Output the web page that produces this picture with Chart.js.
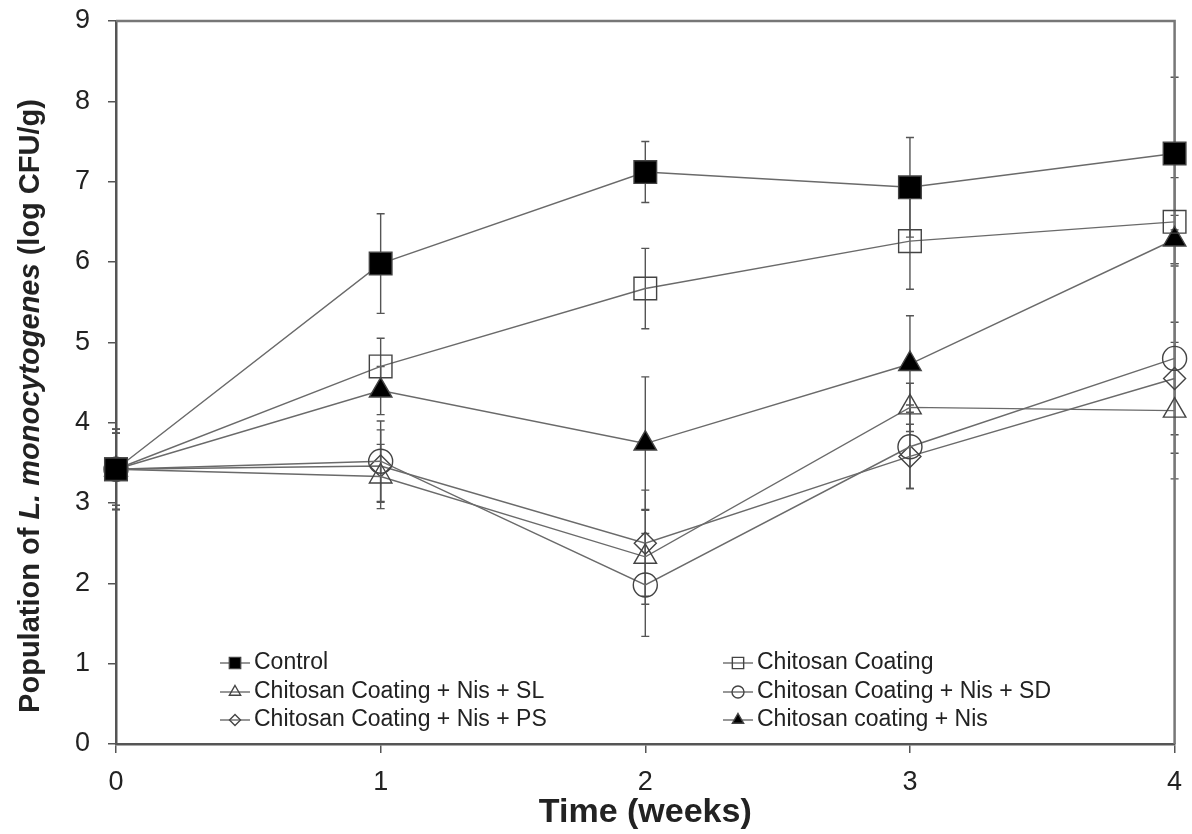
<!DOCTYPE html>
<html>
<head>
<meta charset="utf-8">
<script src="https://cdn.jsdelivr.net/npm/chart.js@4.4.0/dist/chart.umd.min.js"></script>
<style>
  html, body { margin: 0; padding: 0; background: #fff; }
</style>
</head>
<body>
<canvas id="chart" width="1192" height="834"></canvas>
<script>
// weeks of storage
const weeks = [0, 1, 2, 3, 4]
const yTicks = [0, 1, 2, 3, 4, 5, 6, 7, 8, 9]

// population means (log CFU/g)
const control    = [3.42, 5.98, 7.12, 6.93, 7.35]
const chitosan   = [3.42, 4.70, 5.67, 6.26, 6.50]
const chitNisSL  = [3.42, 3.33, 2.33, 4.19, 4.15]
const chitNisSD  = [3.42, 3.52, 1.98, 3.70, 4.80]
const chitNisPS  = [3.42, 3.46, 2.50, 3.58, 4.55]
const chitNis    = [3.42, 4.40, 3.74, 4.73, 6.28]

// standard deviations
const controlSd  = [0.50, 0.62, 0.38, 0.62, 0.95]
const chitosanSd = [0.45, 0.35, 0.50, 0.60, 0.55]
const slSd       = [0.50, 0.40, 0.59, 0.30, 0.85]
const sdSd       = [0.50, 0.50, 0.64, 0.52, 1.18]
const psSd       = [0.45, 0.45, 0.66, 0.40, 0.70]
const nisSd      = [0.45, 0.30, 0.83, 0.60, 0.30]

const labels = [
  'Control', 'Chitosan Coating',
  'Chitosan Coating + Nis + SL', 'Chitosan Coating + Nis + SD',
  'Chitosan Coating + Nis + PS', 'Chitosan coating + Nis'
]

const FONT = "'Liberation Sans', Arial, sans-serif"
const LINE = '#6a6a6a'
const MARK = '#444'

const mkSet = (label, values, sd, style, radius, filled) => ({
  label,
  data: weeks.map((w, i) => ({ x: w, y: values[i] })),
  sd,
  borderColor: LINE,
  borderWidth: 1.4,
  pointStyle: style,
  pointRadius: radius,
  pointHoverRadius: radius,
  pointBorderColor: MARK,
  pointBorderWidth: 1.4,
  pointBackgroundColor: filled ? '#000' : 'rgba(0,0,0,0)',
  tension: 0,
  clip: false
})

const datasets = [
  mkSet(labels[0], control, controlSd, 'rect', 16, true),
  mkSet(labels[1], chitosan, chitosanSd, 'rect', 16, false),
  mkSet(labels[2], chitNisSL, slSd, 'triangle', 13, false),
  mkSet(labels[3], chitNisSD, sdSd, 'circle', 12, false),
  mkSet(labels[4], chitNisPS, psSd, 'rectRot', 11, false),
  mkSet(labels[5], chitNis, nisSd, 'triangle', 13, true)
]

// vertical error bars with small caps
const errorBars = {
  id: 'errorBars',
  beforeDatasetsDraw(chart) {
    const { ctx, scales: { x, y } } = chart
    ctx.save()
    ctx.strokeStyle = '#555'
    ctx.lineWidth = 1.4
    chart.data.datasets.forEach(ds => {
      ds.data.forEach((p, i) => {
        const px = x.getPixelForValue(p.x)
        const top = y.getPixelForValue(p.y + ds.sd[i])
        const bot = y.getPixelForValue(p.y - ds.sd[i])
        ctx.beginPath()
        ctx.moveTo(px, top); ctx.lineTo(px, bot)
        ctx.moveTo(px - 4, top); ctx.lineTo(px + 4, top)
        ctx.moveTo(px - 4, bot); ctx.lineTo(px + 4, bot)
        ctx.stroke()
      })
    })
    ctx.restore()
  }
}

// frame on top/right, axis titles, legend inside plot
const decorations = {
  id: 'decorations',
  beforeDatasetsDraw(chart) {
    const { ctx, chartArea: a } = chart
    ctx.save()
    ctx.strokeStyle = '#777'
    ctx.lineWidth = 2.5
    ctx.beginPath()
    ctx.moveTo(a.left, a.top); ctx.lineTo(a.right, a.top); ctx.lineTo(a.right, a.bottom)
    ctx.stroke()
    ctx.restore()
  },
  afterDraw(chart) {
    const { ctx, chartArea: a } = chart
    ctx.save()
    // x title
    ctx.fillStyle = '#222'
    ctx.font = `bold 34px ${FONT}`
    ctx.textAlign = 'center'
    ctx.textBaseline = 'middle'
    ctx.fillText('Time (weeks)', (a.left + a.right) / 2, 813)

    // y title with italic species name
    const parts = [
      ['Population of ', `bold 29px ${FONT}`],
      ['L. monocytogenes', `italic bold 29px ${FONT}`],
      [' (log CFU/g)', `bold 29px ${FONT}`]
    ]
    let total = 0
    parts.forEach(([t, f]) => { ctx.font = f; total += ctx.measureText(t).width })
    ctx.translate(31, 406)
    ctx.rotate(-Math.PI / 2)
    ctx.textAlign = 'left'
    let cx = -total / 2
    parts.forEach(([t, f]) => {
      ctx.font = f
      ctx.fillText(t, cx, 0)
      cx += ctx.measureText(t).width
    })
    ctx.restore()

    // legend: two columns, three rows
    ctx.save()
    ctx.font = `23px ${FONT}`
    ctx.textBaseline = 'middle'
    const cols = [235, 738]
    const rows = [663, 692, 720]
    chart.data.datasets.forEach((ds, i) => {
      const mx = cols[i % 2]
      const my = rows[Math.floor(i / 2)]
      ctx.strokeStyle = LINE
      ctx.lineWidth = 1.4
      ctx.beginPath()
      ctx.moveTo(mx - 15, my); ctx.lineTo(mx + 15, my)
      ctx.stroke()
      ctx.strokeStyle = MARK
      ctx.fillStyle = ds.pointBackgroundColor
      Chart.helpers.drawPoint(ctx, { pointStyle: ds.pointStyle, radius: ds.pointRadius * 0.5, borderWidth: 1.2 }, mx, my)
      ctx.fillStyle = '#222'
      ctx.fillText(ds.label, mx + 19, my)
    })
    ctx.restore()
  }
}

new Chart('chart', {
  type: 'line',
  data: { datasets },
  options: {
    responsive: false,
    animation: false,
    devicePixelRatio: 1,
    layout: { padding: { left: 0, right: 11, top: 21, bottom: 0 } },
    plugins: { legend: { display: false }, tooltip: { enabled: false } },
    scales: {
      x: {
        type: 'linear',
        min: 0, max: 4,
        afterFit: s => { s.height = 90; s.paddingLeft = 0; s.paddingRight = 0 },
        afterBuildTicks: s => { s.ticks = weeks.map(v => ({ value: v })) },
        grid: { drawOnChartArea: false, drawTicks: true, tickLength: 9, color: '#555', lineWidth: 1.5 },
        border: { display: true, color: '#555', width: 2.5 },
        ticks: { color: '#222', font: { family: FONT, size: 27 }, padding: 13 }
      },
      y: {
        min: 0, max: 9,
        afterFit: s => { s.width = 116; s.paddingTop = 0; s.paddingBottom = 0 },
        afterBuildTicks: s => { s.ticks = yTicks.map(v => ({ value: v })) },
        grid: { drawOnChartArea: false, drawTicks: true, tickLength: 8, color: '#555', lineWidth: 1.5 },
        border: { display: true, color: '#555', width: 2.5 },
        ticks: { color: '#222', font: { family: FONT, size: 27 }, padding: 18 }
      }
    }
  },
  plugins: [errorBars, decorations]
})
</script>
</body>
</html>
